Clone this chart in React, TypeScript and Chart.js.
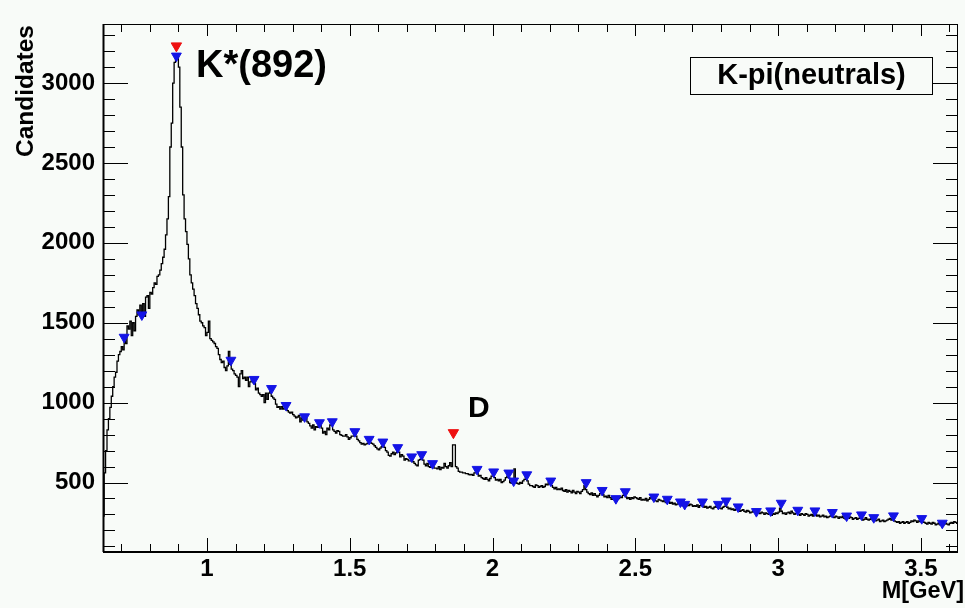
import { useEffect, useRef } from 'react';
import { Chart, registerables } from 'chart.js';

Chart.register(...registerables);

// ---- data -------------------------------------------------------------
const binStart = 0.635; // GeV, lower edge of first bin
const binWidth = 0.005; // GeV

// candidates per bin, 20 bins (0.1 GeV) per row
const counts: number[] = [
  290, 560, 700, 830, 900, 970, 1040, 1100, 1160, 1190, 1260, 1300, 1320, 1350, 1330, 1400, 1370, 1480, 1460, 1510,
  1420, 1500, 1450, 1540, 1580, 1550, 1610, 1570, 1620, 1540, 1660, 1670, 1590, 1690, 1680, 1720, 1750, 1740, 1790, 1800,
  1830, 1870, 1910, 1960, 2050, 2150, 2290, 2600, 2750, 3000, 3130, 3180, 3170, 3100, 2850, 2600, 2300, 2150, 2070, 1990,
  1900, 1800, 1750, 1710, 1670, 1620, 1590, 1550, 1510, 1500, 1480, 1470, 1420, 1440, 1510, 1400, 1390, 1380, 1370, 1350,
  1340, 1300, 1270, 1250, 1260, 1220, 1200, 1230, 1320, 1240, 1210, 1200, 1180, 1170, 1160, 1100, 1180, 1200, 1150, 1160,
  1140, 1160, 1100, 1130, 1140, 1125, 1120, 1080, 1090, 1060, 1050, 1040, 1050, 1000, 1060, 1020, 1060, 1070, 1040, 1030,
  1020, 990, 970, 975, 960, 975, 960, 965, 960, 950, 940, 935, 940, 925, 915, 905, 910, 920, 880, 905,
  890, 895, 900, 880, 870, 855, 840, 860, 830, 850, 845, 855, 860, 840, 810, 820, 800, 840, 830, 860,
  860, 830, 820, 810, 825, 820, 800, 795, 790, 790, 800, 785, 770, 780, 790, 790, 800, 790, 770, 760,
  750, 740, 745, 735, 740, 745, 755, 750, 745, 740, 730, 720, 710, 705, 715, 725, 735, 720, 700, 690,
  670, 665, 680, 690, 675, 685, 700, 690, 660, 675, 665, 640, 650, 645, 635, 635, 640, 630, 620, 610,
  605, 640, 645, 655, 640, 615, 605, 620, 600, 595, 610, 600, 590, 590, 585, 600, 580, 595, 590, 620,
  600, 590, 605, 625, 600, 735, 735, 600, 590, 570, 565, 565, 560, 560, 555, 555, 550, 548, 550, 545,
  560, 565, 570, 540, 545, 530, 525, 520, 530, 520, 510, 525, 540, 545, 530, 515, 520, 510, 520, 500,
  505, 515, 530, 540, 530, 500, 495, 510, 585, 500, 495, 490, 500, 495, 510, 520, 530, 510, 490, 480,
  480, 475, 470, 485, 480, 470, 475, 480, 470, 475, 490, 485, 500, 490, 480, 470, 460, 470, 455, 460,
  455, 465, 450, 445, 455, 440, 450, 445, 435, 450, 440, 430, 445, 440, 430, 445, 455, 480, 455, 440,
  430, 425, 435, 420, 430, 420, 410, 420, 430, 440, 425, 410, 415, 405, 420, 405, 395, 410, 400, 390,
  395, 400, 410, 405, 420, 430, 410, 400, 405, 395, 405, 400, 410, 405, 400, 395, 405, 390, 395, 390,
  400, 385, 395, 405, 400, 395, 400, 385, 380, 395, 390, 385, 380, 390, 375, 385, 380, 370, 375, 365,
  370, 360, 365, 370, 370, 355, 365, 360, 350, 360, 355, 365, 360, 350, 355, 350, 360, 345, 355, 365,
  355, 345, 350, 340, 345, 350, 340, 335, 345, 350, 345, 355, 340, 335, 345, 350, 365, 345, 335, 340,
  330, 335, 325, 330, 340, 330, 320, 325, 330, 320, 315, 325, 320, 310, 315, 320, 315, 310, 310, 310,
  305, 315, 310, 300, 310, 305, 300, 310, 295, 305, 300, 310, 305, 315, 340, 320, 305, 310, 300, 310,
  315, 305, 320, 310, 300, 305, 310, 300, 295, 305, 300, 295, 305, 300, 290, 295, 300, 290, 305, 300,
  290, 295, 285, 290, 295, 285, 290, 280, 285, 290, 295, 285, 280, 290, 285, 275, 285, 280, 290, 275,
  270, 280, 275, 285, 280, 270, 275, 280, 270, 275, 285, 275, 265, 270, 280, 270, 265, 270, 275, 265,
  270, 260, 265, 270, 255, 260, 265, 255, 260, 265, 270, 275, 265, 275, 260, 255, 250, 255, 245, 250,
  255, 245, 250, 255, 245, 250, 260, 255, 265, 260, 250, 260, 255, 265, 255, 250, 245, 240, 250, 245,
  240, 250, 245, 235, 240, 245, 235, 240, 230, 240, 245, 240, 235, 245, 250, 245, 255, 250, 245, 255,
];

// peak-finder markers (blue)
const peakX: number[] = [
  0.710, 0.772, 0.893, 1.084, 1.165, 1.226, 1.277, 1.342, 1.394, 1.439, 1.518, 1.568, 1.616, 1.668, 1.717, 1.752,
  1.790, 1.946, 2.004, 2.057, 2.074, 2.120, 2.204, 2.328, 2.384, 2.432, 2.465, 2.565, 2.612, 2.658, 2.673, 2.735,
  2.791, 2.818, 2.860, 2.924, 2.974, 3.011, 3.069, 3.129, 3.190, 3.240, 3.292, 3.335, 3.404, 3.503, 3.575,
];
const peakY: number[] = [
  1410, 1550, 3170, 1266, 1146, 1089, 983, 912, 875, 881, 819, 771, 754, 719, 661, 675,
  619, 583, 567, 560, 510, 549, 510, 500, 451, 400, 443, 410, 396, 379, 364, 379,
  364, 385, 348, 319, 323, 371, 327, 323, 313, 291, 298, 281, 292, 275, 246,
];

// identified resonances (red markers)
const resonanceX: number[] = [0.893, 1.863];
const resonanceY: number[] = [3233, 812];
const resonanceNames: string[] = ['K*(892)', 'D'];

const xTicks: number[] = [1, 1.5, 2, 2.5, 3, 3.5];
const xTickLabels: string[] = ['1', '1.5', '2', '2.5', '3', '3.5'];
const yTicks: number[] = [500, 1000, 1500, 2000, 2500, 3000];
const yTickLabels: string[] = ['500', '1000', '1500', '2000', '2500', '3000'];

const xMin = 0.636;
const xMax = 3.63;
const yMin = 65;
const yMax = 3370;
const xMinorStep = 0.1;
const yMinorStep = 100;

const xTitle = 'M[GeV]';
const yTitle = 'Candidates';
const legendText = 'K-pi(neutrals)';

// ---- styling ----------------------------------------------------------
const FONT = '"Liberation Sans", Arial, Helvetica, sans-serif';
const BG = '#f8fbf8';

const decorPlugin = {
  id: 'rootDecor',
  beforeDraw(chart: any) {
    const { ctx, width, height } = chart;
    ctx.save();
    ctx.fillStyle = BG;
    ctx.fillRect(0, 0, width, height);
    ctx.restore();
  },
  afterDraw(chart: any) {
    const { ctx, chartArea: a } = chart;
    const xs = chart.scales.x;
    const ys = chart.scales.y;
    ctx.save();
    ctx.strokeStyle = '#000';
    ctx.fillStyle = '#000';

    // frame
    ctx.lineWidth = 1;
    ctx.strokeRect(a.left + 0.5, a.top + 0.5, a.right - a.left - 1, a.bottom - a.top - 1);
    ctx.lineWidth = 2;
    ctx.beginPath();
    ctx.moveTo(a.left, a.bottom);
    ctx.lineTo(a.right, a.bottom);
    ctx.moveTo(a.left + 0.5, a.top);
    ctx.lineTo(a.left + 0.5, a.bottom);
    ctx.stroke();

    // ticks (inward, all four sides)
    ctx.lineWidth = 1;
    ctx.beginPath();
    for (let k = Math.ceil(xMin / xMinorStep); k * xMinorStep <= xMax; k++) {
      const v = k * xMinorStep;
      const major = xTicks.some((t) => Math.abs(t - v) < 1e-6);
      const px = Math.round(xs.getPixelForValue(v)) + 0.5;
      const lb = major ? 14 : 8;
      const lt = major ? 12 : 8;
      ctx.moveTo(px, a.bottom);
      ctx.lineTo(px, a.bottom - lb);
      ctx.moveTo(px, a.top);
      ctx.lineTo(px, a.top + lt);
    }
    for (let k = Math.ceil(yMin / yMinorStep); k * yMinorStep <= yMax; k++) {
      const v = k * yMinorStep;
      const major = yTicks.some((t) => Math.abs(t - v) < 1e-6);
      const py = Math.round(ys.getPixelForValue(v)) + 0.5;
      const l = major ? 25 : 12;
      ctx.moveTo(a.left, py);
      ctx.lineTo(a.left + l, py);
      ctx.moveTo(a.right, py);
      ctx.lineTo(a.right - l, py);
    }
    ctx.stroke();

    // axis titles
    ctx.font = `bold 24.5px ${FONT}`;
    ctx.textBaseline = 'alphabetic';
    ctx.save();
    ctx.translate(33, a.top + 1);
    ctx.rotate(-Math.PI / 2);
    ctx.textAlign = 'right';
    ctx.fillText(yTitle, 0, 0);
    ctx.restore();

    ctx.font = `bold 23.5px ${FONT}`;
    ctx.textAlign = 'right';
    ctx.fillText(xTitle, 964, 598);

    // resonance labels
    ctx.textAlign = 'left';
    ctx.font = `bold 38px ${FONT}`;
    ctx.fillText(resonanceNames[0], 196, 77);
    ctx.font = `bold 30px ${FONT}`;
    ctx.fillText(resonanceNames[1], 468, 417);

    // legend box
    ctx.lineWidth = 1;
    ctx.strokeRect(690.5, 57.5, 242, 37);
    ctx.font = `bold 29px ${FONT}`;
    ctx.textAlign = 'center';
    ctx.fillText(legendText, 811.5, 84);

    ctx.restore();
  },
};

export default function App() {
  const canvasRef = useRef<HTMLCanvasElement | null>(null);

  useEffect(() => {
    if (!canvasRef.current) return;
    const histPoints = counts.map((c, i) => ({ x: +(binStart + i * binWidth).toFixed(4), y: c }));
    histPoints.push({ x: +(binStart + counts.length * binWidth).toFixed(4), y: counts[counts.length - 1] });

    const chart = new Chart(canvasRef.current, {
      type: 'line',
      data: {
        datasets: [
          {
            label: 'hist',
            data: histPoints,
            stepped: true,
            borderColor: '#000',
            borderWidth: 1.3,
            pointRadius: 0,
            fill: false,
            clip: 0,
            order: 3,
          } as any,
          {
            label: 'peaks',
            type: 'scatter',
            data: peakX.map((x, i) => ({ x, y: peakY[i] })),
            pointStyle: 'triangle',
            rotation: 180,
            pointRadius: 5.7,
            backgroundColor: '#1414e6',
            borderColor: '#1414e6',
            borderWidth: 1,
            order: 2,
          } as any,
          {
            label: 'resonances',
            type: 'scatter',
            data: resonanceX.map((x, i) => ({ x, y: resonanceY[i] })),
            pointStyle: 'triangle',
            rotation: 180,
            pointRadius: 6,
            backgroundColor: '#ee1010',
            borderColor: '#ee1010',
            borderWidth: 1,
            order: 1,
          } as any,
        ],
      },
      options: {
        animation: false,
        responsive: true,
        maintainAspectRatio: false,
        layout: { padding: { top: 24, right: 1, left: 0, bottom: 0 } },
        plugins: { legend: { display: false }, tooltip: { enabled: false } },
        events: [],
        scales: {
          x: {
            type: 'linear',
            min: xMin,
            max: xMax,
            border: { display: false },
            grid: { display: false, drawTicks: false },
            afterBuildTicks: (scale: any) => {
              scale.ticks = xTicks.map((v) => ({ value: v }));
            },
            afterFit: (scale: any) => {
              scale.height = 56;
            },
            ticks: {
              autoSkip: false,
              maxRotation: 0,
              padding: 3,
              color: '#000',
              font: { family: FONT, size: 24, weight: 'bold' },
              callback: (v: any) => {
                const i = xTicks.findIndex((t) => Math.abs(t - Number(v)) < 1e-6);
                return i >= 0 ? xTickLabels[i] : '';
              },
            },
          },
          y: {
            type: 'linear',
            min: yMin,
            max: yMax,
            border: { display: false },
            grid: { display: false, drawTicks: false },
            afterBuildTicks: (scale: any) => {
              scale.ticks = yTicks.map((v) => ({ value: v }));
            },
            afterFit: (scale: any) => {
              scale.width = 103;
            },
            ticks: {
              autoSkip: false,
              padding: 8,
              color: '#000',
              font: { family: FONT, size: 24, weight: 'bold' },
              callback: (v: any) => {
                const i = yTicks.findIndex((t) => Math.abs(t - Number(v)) < 1e-6);
                return i >= 0 ? yTickLabels[i] : '';
              },
            },
          },
        },
      } as any,
      plugins: [decorPlugin],
    });
    return () => chart.destroy();
  }, []);

  return (
    <div style={{ position: 'absolute', left: 0, top: 0, width: 965, height: 608, background: BG }}>
      <canvas ref={canvasRef} />
    </div>
  );
}
